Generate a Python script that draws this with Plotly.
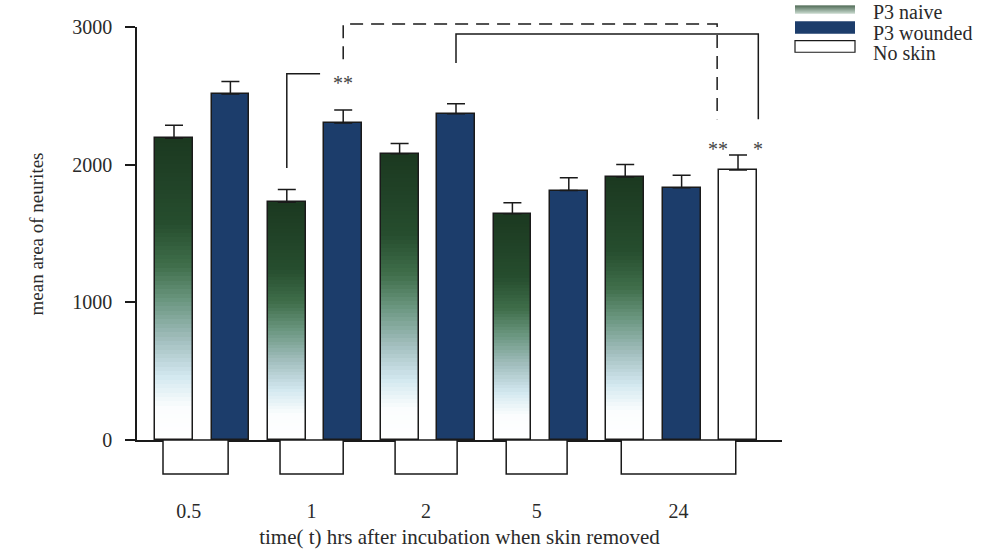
import plotly.graph_objects as go

# ---------------- data ----------------
groups = ["0.5", "1", "2", "5", "24"]
naive = [2191, 1727, 2079, 1643, 1910]
naive_err = [95, 92, 75, 80, 92]
wounded = [2514, 2303, 2370, 1812, 1832]
wounded_err = [90, 94, 73, 93, 92]
noskin = [1962]
noskin_err = [108]
series_names = ["P3 naive", "P3 wounded", "No skin"]

# ---------------- layout constants ----------------
FONT = "Liberation Serif"
TXT = "#2a2a2a"
LINE = "#1a1a1a"
BW = 0.67
WOUND_COL = "#1c3d6b"
L, R, T, B = 137, 222, 27, 105
W, H = 1004, 557
PW, PH = W - L - R, H - T - B
YMAX = 3000
XR = [-0.656, 10.78]

x_naive = [2 * i for i in range(len(groups))]
x_wound = [2 * i + 1 for i in range(len(groups))]
x_noskin = [2 * len(groups)]


def lerp(c1, c2, t):
    a = [int(c1[i:i + 2], 16) for i in (1, 3, 5)]
    b = [int(c2[i:i + 2], 16) for i in (1, 3, 5)]
    return "#%02x%02x%02x" % tuple(round(a[k] + (b[k] - a[k]) * t) for k in range(3))


stops = [(0.0, "#ffffff"), (0.11, "#fbfdfe"), (0.21, "#d3e8f0"), (0.33, "#a3bfbf"),
         (0.46, "#6c9781"), (0.58, "#3f6e4a"), (0.72, "#264d2e"), (1.0, "#1b3820")]


def grad(f):
    for (f1, c1), (f2, c2) in zip(stops[:-1], stops[1:]):
        if f <= f2:
            return lerp(c1, c2, (f - f1) / (f2 - f1))
    return stops[-1][1]


fig = go.Figure()

# gradient-filled naive bars: stacked from bottom, each layer reaches to the top
N = 70
for i in range(N):
    f = i / N
    fig.add_trace(go.Bar(
        x=x_naive, y=[v * (1 - f) for v in naive], base=[v * f for v in naive],
        width=BW, marker=dict(color=grad(f + 0.5 / N), line=dict(width=0)),
        showlegend=False, hoverinfo="skip"))

# naive outline + error bars
fig.add_trace(go.Bar(
    x=x_naive, y=naive, width=BW, name=series_names[0],
    marker=dict(color="rgba(0,0,0,0)", line=dict(color=LINE, width=1.5)),
    error_y=dict(type="data", symmetric=False, array=naive_err,
                 arrayminus=[0] * len(naive), color=LINE, thickness=1.5, width=9),
    showlegend=False))

fig.add_trace(go.Bar(
    x=x_wound, y=wounded, width=BW, name=series_names[1],
    marker=dict(color=WOUND_COL, line=dict(color=LINE, width=1.5)),
    error_y=dict(type="data", symmetric=False, array=wounded_err,
                 arrayminus=[0] * len(wounded), color=LINE, thickness=1.5, width=9),
    showlegend=False))

fig.add_trace(go.Bar(
    x=x_noskin, y=noskin, width=BW, name=series_names[2],
    marker=dict(color="white", line=dict(color=LINE, width=1.5)),
    error_y=dict(type="data", symmetric=False, array=noskin_err,
                 arrayminus=[0], color=LINE, thickness=1.5, width=9),
    showlegend=False))

shapes = []
annotations = []


def yp(v):
    return v / YMAX


# group boxes under the axis
box_spans = [(-0.195, 0.96), (1.88, 3.0), (3.92, 5.02), (5.89, 6.97), (7.93, 9.96)]
box_h = 35 / PH
for x0, x1 in box_spans:
    shapes.append(dict(type="rect", xref="x", yref="paper", x0=x0, x1=x1, y0=0, y1=-box_h,
                       line=dict(color=LINE, width=1.5), fillcolor="white"))
tick_pos = [(a + b) / 2 for a, b in box_spans]
tick_pos[0] -= 0.12

# significance brackets
def path(pts):
    return "M " + " L ".join("%g,%g" % (x, yp(y)) for x, y in pts)

shapes.append(dict(type="path", xref="x", yref="paper",
                   path=path([(x_naive[1], 1976), (x_naive[1], 2660), (2.59, 2660)]),
                   line=dict(color=LINE, width=1.5)))
shapes.append(dict(type="path", xref="x", yref="paper",
                   path=path([(x_wound[1], 2766), (x_wound[1], 3021), (9.63, 3021), (9.63, 2329)]),
                   line=dict(color=LINE, width=1.5, dash="13px,8px")))
shapes.append(dict(type="path", xref="x", yref="paper",
                   path=path([(x_wound[2], 2738), (x_wound[2], 2950), (10.36, 2950), (10.36, 2329)]),
                   line=dict(color=LINE, width=1.5)))

for x, y, t in [(3.0, 2690, "**"), (9.65, 2210, "**"), (10.36, 2210, "*")]:
    annotations.append(dict(x=x, y=yp(y), xref="x", yref="paper", text=t, showarrow=False,
                            font=dict(family=FONT, size=20, color="#444")))

# legend (custom)
def px_x(x):
    return (x - L) / PW


def px_y(y):
    return (H - B - y) / PH


lx0, lx1 = 795, 855
sw_top, sw_bot = 5, 13
nb = 8
for k in range(nb):
    y0 = sw_top + (sw_bot - sw_top) * k / nb
    y1 = sw_top + (sw_bot - sw_top) * (k + 1) / nb
    shapes.append(dict(type="rect", xref="paper", yref="paper", x0=px_x(lx0), x1=px_x(lx1),
                       y0=px_y(y0), y1=px_y(y1), line=dict(width=0),
                       fillcolor=lerp("#1f4227", "#a7bfb0", k / (nb - 1))))
shapes.append(dict(type="rect", xref="paper", yref="paper", x0=px_x(lx0), x1=px_x(lx1),
                   y0=px_y(21), y1=px_y(34), line=dict(width=0), fillcolor=WOUND_COL))
shapes.append(dict(type="rect", xref="paper", yref="paper", x0=px_x(lx0), x1=px_x(lx1),
                   y0=px_y(41), y1=px_y(53), line=dict(color=LINE, width=1.2), fillcolor="white"))
for name, yc in zip(series_names, [12, 33, 54]):
    annotations.append(dict(x=px_x(871), y=px_y(yc), xref="paper", yref="paper", text=name,
                            showarrow=False, xanchor="left", yanchor="middle",
                            font=dict(family=FONT, size=20, color=TXT)))

# y axis title
annotations.append(dict(x=px_x(24), y=px_y(240), xref="paper", yref="paper",
                        text="mean area of neurites", textangle=-90, showarrow=False,
                        font=dict(family=FONT, size=19, color=TXT)))

fig.update_layout(
    width=W, height=H,
    margin=dict(l=L, r=R, t=T, b=B, pad=0),
    paper_bgcolor="white", plot_bgcolor="white",
    barmode="overlay", bargap=0,
    shapes=shapes, annotations=annotations,
    font=dict(family=FONT, size=19, color=TXT),
    xaxis=dict(range=XR, showline=True, linecolor=LINE, linewidth=2,
               tickmode="array", tickvals=tick_pos, ticktext=groups,
               ticks="outside", ticklen=52, tickcolor="rgba(0,0,0,0)",
               tickfont=dict(family=FONT, size=20, color=TXT),
               showgrid=False, zeroline=False,
               title=dict(text="time( t) hrs after incubation when skin removed",
                          font=dict(family=FONT, size=21, color=TXT), standoff=8)),
    yaxis=dict(range=[0, YMAX], showline=True, linecolor=LINE, linewidth=1.5,
               tickmode="array", tickvals=[0, 1000, 2000, 3000],
               ticks="outside", ticklen=10, tickwidth=1.5, tickcolor=LINE,
               ticklabelstandoff=9,
               tickfont=dict(family=FONT, size=20, color=TXT),
               showgrid=False, zeroline=False),
)

fig.write_html("out.html")
